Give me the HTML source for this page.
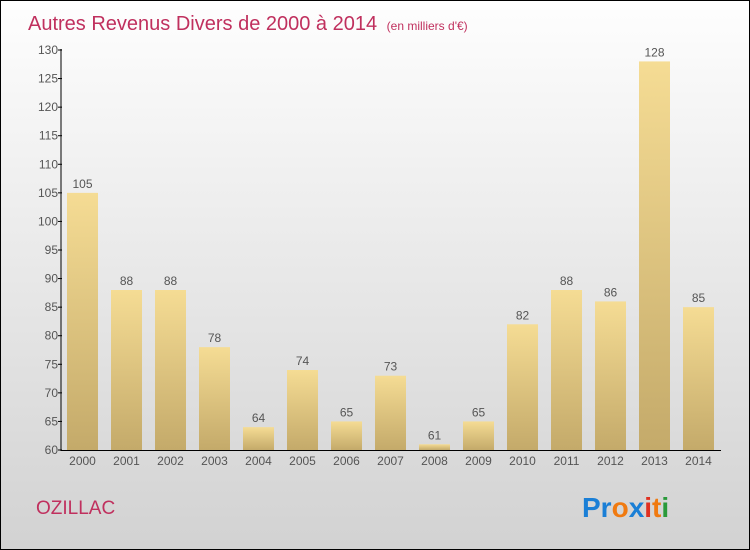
<!DOCTYPE html>
<html><head><meta charset="utf-8"><style>
html,body{margin:0;padding:0}
body{width:750px;height:550px;overflow:hidden;font-family:"Liberation Sans",sans-serif}
#wrap{position:absolute;left:0;top:0;width:748px;height:548px;border:1px solid #000;background:linear-gradient(#fefefe,#d2d2d2)}
</style></head><body>
<div id="wrap">
<svg width="750" height="550" style="position:absolute;left:-1px;top:-1px" id="svg">
<defs><linearGradient id="bg" x1="0" y1="0" x2="0" y2="1"><stop offset="0" stop-color="#f5dc94"/><stop offset="1" stop-color="#c4aa6a"/></linearGradient></defs>
<text x="28" y="30" font-size="20" fill="#c0305e">Autres Revenus Divers de 2000 à 2014 <tspan font-size="12" dx="4">(en milliers d'€)</tspan></text>
<text x="36" y="514" font-size="19" fill="#c0305e">OZILLAC</text>
<text x="582" y="517" font-size="28" font-weight="bold"><tspan fill="#1a7fd6">Pr</tspan><tspan fill="#f07a10">o</tspan><tspan fill="#1a7fd6">x</tspan><tspan fill="#e03020">i</tspan><tspan fill="#f07a10">t</tspan><tspan fill="#2a9a3a">i</tspan></text>
<g id="g"></g>
</svg></div>
<script>
const years=["2000","2001","2002","2003","2004","2005","2006","2007","2008","2009","2010","2011","2012","2013","2014"];
const values=[105,88,88,78,64,74,65,73,61,65,82,88,86,128,85];
const ticks=[60,65,70,75,80,85,90,95,100,105,110,115,120,125,130];
const NS="http://www.w3.org/2000/svg",g=document.getElementById('g');
const y=v=>450-(v-60)*400/70, x=i=>82.5+i*44;
function mk(t,a,txt){const e=document.createElementNS(NS,t);for(const k in a)e.setAttribute(k,a[k]);if(txt!==undefined)e.textContent=txt;g.appendChild(e);return e;}
values.forEach((v,i)=>{
 const b=mk('rect',{x:x(i)-15.5,y:y(v),width:31,height:450-y(v),fill:'url(#bg)'});
 
 
 const l=mk('text',{x:x(i),y:y(v)-5,'font-size':12,fill:'#555','text-anchor':'middle'},v);
 
 
 const t=mk('text',{x:x(i),y:465,'font-size':12,fill:'#555','text-anchor':'middle'},years[i]);
 
 
});
ticks.forEach(v=>{
 const tk=mk('line',{x1:58,x2:62,y1:y(v),y2:y(v),stroke:'#000'});
 
 
 const t=mk('text',{x:58,y:y(v)+4,'font-size':12,fill:'#555','text-anchor':'end'},v);
 
 
});
const ya=mk('line',{x1:61,x2:61,y1:49,y2:451,stroke:'#000'});


const xa=mk('line',{x1:61,x2:721,y1:450.5,y2:450.5,stroke:'#000'});


</script>
</body></html>
